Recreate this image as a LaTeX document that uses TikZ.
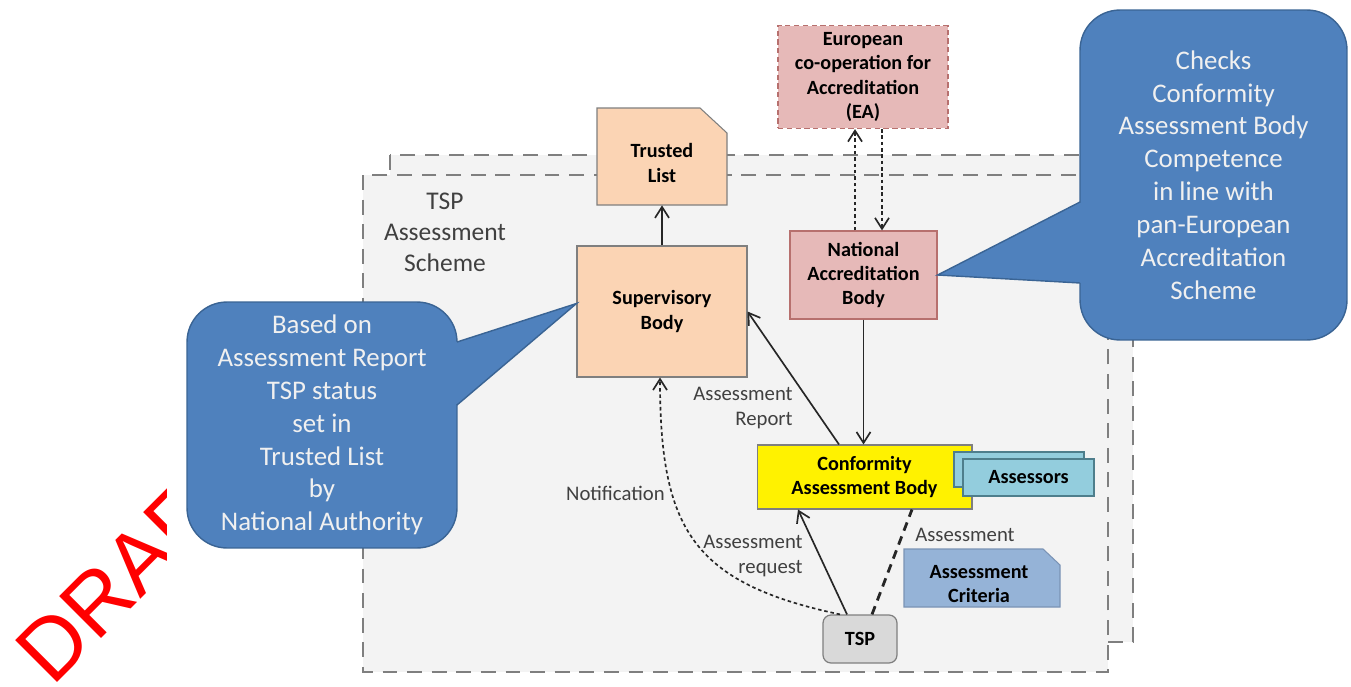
\documentclass[tikz,border=0pt]{standalone}
\usepackage{fontspec}
\setmainfont{Carlito}
\newfontfamily\draftfont{Liberation Sans}
\usetikzlibrary{arrows.meta}
\definecolor{peach}{HTML}{FBD4B4}
\definecolor{rose}{HTML}{E6B9B8}
\definecolor{roseline}{HTML}{B7706E}
\definecolor{callblue}{HTML}{4F81BD}
\definecolor{callline}{HTML}{3A6494}
\definecolor{asrblue}{HTML}{93CDDD}
\definecolor{asrline}{HTML}{4E7E8C}
\definecolor{critblue}{HTML}{95B3D7}
\definecolor{critline}{HTML}{7A93B5}
\definecolor{schemebg}{HTML}{F3F3F3}
\definecolor{edge}{HTML}{7F7F7F}
\definecolor{ink}{HTML}{262626}

\begin{document}
\begin{tikzpicture}[x=0.02cm, y=-0.02cm,
  lbox/.style={align=center, inner sep=0pt, font=\bfseries\fontsize{11.5}{13.8}\selectfont},
  note/.style={fill=callblue, draw=callline, line width=0.8pt, rounded corners=0.8cm, text=white!94!black,
    align=center, inner sep=0pt, font=\fontsize{15.3}{18.7}\selectfont},
  lbl/.style={text=black!75, inner sep=0pt, font=\fontsize{11.8}{14}\selectfont},
  flow/.style={draw=ink, line width=0.95pt, -{Straight Barb[length=2.2mm,width=2.8mm]}},
  dots/.style={flow, dash pattern=on 2pt off 1.6pt},
  scheme/.style={fill=schemebg, draw=edge, line width=1.1pt, dash pattern=on 8.5pt off 5.5pt}]

  \useasboundingbox (0,0) rectangle (1351,686);
  \fill[white] (0,0) rectangle (1351,686);

  \node[text=red, font=\draftfont\fontsize{49}{49}\selectfont, rotate=45, anchor=base west, inner sep=0pt] (draft) at (52,688) {DRAFT};
  \fill[white] (167,0) rectangle (1351,686);

  \draw[scheme] (390,155) rectangle (1133,642);
  \draw[scheme] (363,175) rectangle (1108,672);
  \node[text=black!75, align=center, font=\fontsize{14.5}{17.6}\selectfont] (schemelbl) at (445,232) {TSP\\Assessment\\Scheme};

  \draw[fill=peach, draw=edge, line width=0.6pt] (597,205) -- (597,108) -- (700,108) -- (727,133) -- (727,205) -- cycle;
  \node[lbox, minimum width=2.6cm, minimum height=1.68cm] (trusted) at (662,163) {Trusted\\List};
  \node[lbox, fill=peach, draw=edge, line width=0.6pt, minimum width=3.4cm, minimum height=2.62cm] (super) at (662,311.5) {Supervisory\\Body};
  \node[lbox, fill=rose, draw=roseline, line width=0.7pt, dash pattern=on 3pt off 2pt, minimum width=3.4cm, minimum height=2.06cm] (ea) at (863,77) {European\\co-operation for\\Accreditation\\(EA)};
  \node[lbox, fill=rose, draw=roseline, line width=0.7pt, minimum width=2.94cm, minimum height=1.76cm] (nab) at (863.5,275) {National\\Accreditation\\Body};
  \node[lbox, fill=yellow, draw=edge, line width=0.6pt, minimum width=4.3cm, minimum height=1.28cm] (cab) at (864.5,477) {Conformity\\Assessment Body};
  \draw[fill=asrblue, draw=asrline, line width=0.7pt] (954,452) rectangle (1084,487);
  \node[lbox, fill=asrblue, draw=asrline, line width=0.7pt, minimum width=2.62cm, minimum height=0.74cm] (assessors) at (1028.5,477.5) {Assessors};
  \draw[fill=critblue, draw=critline, line width=0.6pt] (904,607) -- (904,549) -- (1043,549) -- (1060,565) -- (1060,607) -- cycle;
  \node[lbox] (criteria) at (979,584) {Assessment\\Criteria};
  \node[lbox, fill=black!15, draw=edge, line width=0.7pt, rounded corners=0.16cm, minimum width=1.48cm, minimum height=0.96cm] (tsp) at (860,639) {TSP};

  \node[note, minimum width=5.4cm, minimum height=4.92cm] (leftnote) at (322,425) {Based on\\Assessment Report\\TSP status\\set in\\Trusted List\\by\\National Authority};
  \fill[callblue] (445,342) -- (458.5,341.5) -- ([yshift=0.16cm]super.west) -- (458.5,403.7) -- (445,405) -- cycle;
  \draw[callline, line width=0.8pt] (457,342) -- ([yshift=0.16cm]super.west) -- (457,405);
  \node[note, minimum width=5.34cm, minimum height=6.6cm] (rightnote) at (1213.5,175) {Checks\\Conformity\\Assessment Body\\Competence\\in line with\\pan-European\\Accreditation\\Scheme};
  \fill[callblue] (1092,202) -- (1078.5,202.8) -- (nab.east) -- (1078.5,282.9) -- (1092,283) -- cycle;
  \draw[callline, line width=0.8pt] (1080,202) -- (nab.east) -- (1080,283);

  \draw[flow] (super) -- (trusted.south);
  \draw[dots] ([xshift=-0.17cm]nab.north) -- ([xshift=-0.17cm]nab.north |- ea.south);
  \draw[dots] ([xshift=0.37cm]nab.north |- ea.south) -- ([xshift=0.37cm]nab.north);
  \draw[flow] (nab.south) -- (nab.south |- cab.north);
  \draw[flow] ([xshift=-0.51cm]cab.north) -- (super.east);
  \draw[flow] ([xshift=-0.26cm]tsp.north) -- ([xshift=-1.33cm]cab.south);
  \draw[ink, line width=1.6pt, dash pattern=on 5pt off 3.5pt] ([xshift=0.24cm]tsp.north) -- ([xshift=0.95cm]cab.south);
  \draw[dots] ([xshift=-0.4cm]tsp.north) to[out=168, in=-90, looseness=1.3] ([xshift=-0.04cm]super.south);

  \node[lbl, align=right, anchor=east] (reportlbl) at (793,408) {Assessment\\Report};
  \node[lbl, anchor=east] (notiflbl) at (665,493) {Notification};
  \node[lbl, align=right, anchor=east] (requestlbl) at (803,556) {Assessment\\request};
  \node[lbl, anchor=west] (assesslbl) at (915,535) {Assessment};
\end{tikzpicture}
\end{document}
